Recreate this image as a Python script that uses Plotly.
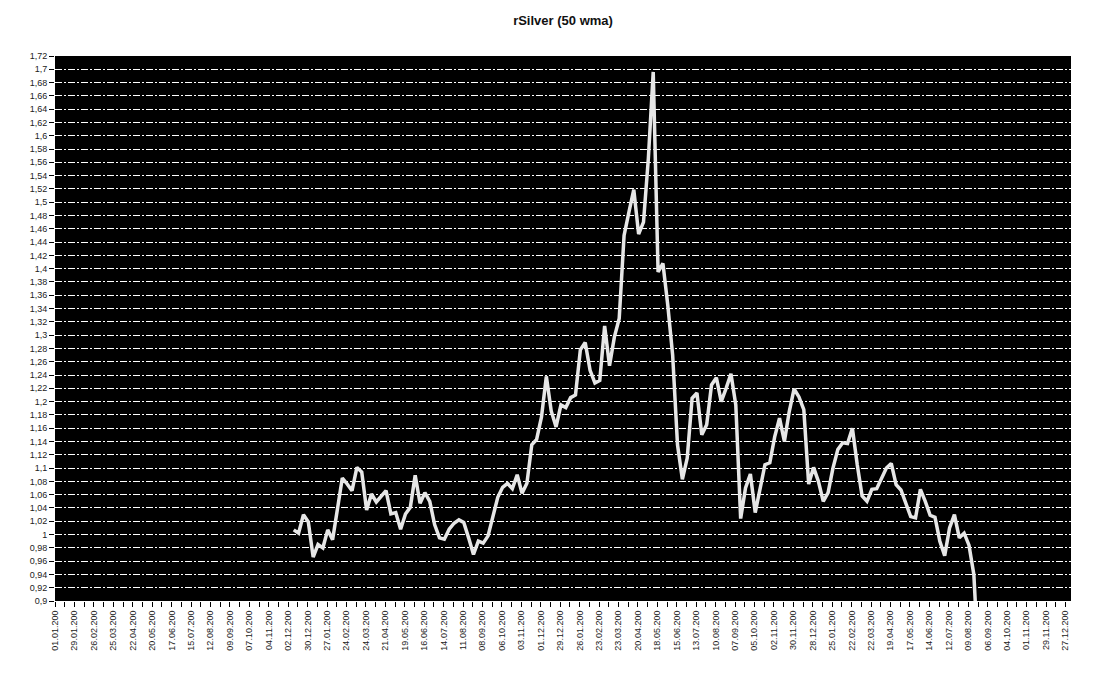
import pandas as pd
import plotly.graph_objects as go

# Weekly series (Fridays), starting 10.12.2004
start_date = "2004-12-10"
values = [
    1.007, 1.002, 1.030, 1.019, 0.966, 0.985, 0.980, 1.007, 0.992, 1.035,
    1.085, 1.076, 1.066, 1.101, 1.094, 1.037, 1.061, 1.049, 1.057, 1.066,
    1.031, 1.033, 1.008, 1.031, 1.041, 1.089, 1.047, 1.063, 1.050, 1.015,
    0.995, 0.993, 1.008, 1.017, 1.022, 1.018, 0.995, 0.970, 0.990, 0.987,
    0.998, 1.028, 1.056, 1.071, 1.077, 1.069, 1.090, 1.062, 1.077, 1.135,
    1.143, 1.177, 1.238, 1.186, 1.162, 1.195, 1.191, 1.206, 1.210, 1.278,
    1.289, 1.247, 1.228, 1.232, 1.314, 1.254, 1.297, 1.325, 1.450, 1.485,
    1.519, 1.452, 1.470, 1.566, 1.696, 1.395, 1.408, 1.345, 1.270, 1.135,
    1.083, 1.115, 1.205, 1.213, 1.150, 1.165, 1.225, 1.236, 1.200, 1.220,
    1.242, 1.195, 1.024, 1.070, 1.091, 1.033, 1.068, 1.105, 1.108, 1.147,
    1.175, 1.140, 1.185, 1.219, 1.207, 1.188, 1.076, 1.101, 1.080, 1.050,
    1.063, 1.100, 1.128, 1.138, 1.137, 1.160, 1.105, 1.058, 1.050, 1.068,
    1.069, 1.085, 1.100, 1.107, 1.075, 1.067, 1.048, 1.027, 1.025, 1.068,
    1.050, 1.029, 1.026, 0.990, 0.968, 1.010, 1.030, 0.995, 1.002, 0.984,
    0.940, 0.800,
]
dates = pd.date_range(start_date, periods=len(values), freq="7D")

# X tick labels (every 4 weeks from 01.01.2004), shown truncated as in the original
x_tick_labels = [
    "01.01.200", "29.01.200", "26.02.200", "25.03.200", "22.04.200", "20.05.200",
    "17.06.200", "15.07.200", "12.08.200", "09.09.200", "07.10.200", "04.11.200",
    "02.12.200", "30.12.200",
    "27.01.200", "24.02.200", "24.03.200", "21.04.200", "19.05.200", "16.06.200",
    "14.07.200", "11.08.200", "08.09.200", "06.10.200", "03.11.200", "01.12.200",
    "29.12.200",
    "26.01.200", "23.02.200", "23.03.200", "20.04.200", "18.05.200", "15.06.200",
    "13.07.200", "10.08.200", "07.09.200", "05.10.200", "02.11.200", "30.11.200",
    "28.12.200",
    "25.01.200", "22.02.200", "22.03.200", "19.04.200", "17.05.200", "14.06.200",
    "12.07.200", "09.08.200", "06.09.200", "04.10.200", "01.11.200", "29.11.200",
    "27.12.200",
]
x_tick_dates = pd.date_range("2004-01-01", periods=len(x_tick_labels), freq="28D")

title_text = "rSilver (50 wma)"
y_min, y_max, y_step = 0.9, 1.72, 0.02

fig = go.Figure()
fig.add_trace(go.Scatter(
    x=dates, y=values, mode="lines",
    line=dict(color="#e6e6e6", width=3.5),
    showlegend=False, hoverinfo="x+y",
))

tick_font = dict(family="Liberation Sans, Arial, sans-serif", size=9, color="#222222")

W, H = 1111, 666
fig.update_layout(
    width=W, height=H, autosize=False,
    margin=dict(l=47, r=48, t=48, b=73),
    paper_bgcolor="white", plot_bgcolor="black",
    separators=",.",
    title=dict(text="<b>" + title_text + "</b>", x=0.5, xref="paper",
               y=1 - 12 / H, yanchor="middle",
               font=dict(family="Liberation Sans, Arial, sans-serif", size=13, color="#111111")),
    xaxis=dict(
        type="date",
        range=["2004-01-01", "2008-01-04"],
        tickmode="array", tickvals=x_tick_dates, ticktext=x_tick_labels,
        tickangle=-90, tickfont=tick_font,
        ticks="outside", ticklen=5, tickcolor="black", tickwidth=1,
        minor=dict(ticks="outside", ticklen=5, tickcolor="black", tickwidth=1,
                   dtick=14 * 86400000, tick0="2004-01-01", showgrid=False),
        showgrid=False, zeroline=False, showline=False,
    ),
    yaxis=dict(
        range=[y_min, y_max], tick0=y_min, dtick=y_step,
        tickfont=tick_font,
        ticks="outside", ticklen=5, tickcolor="black", tickwidth=1,
        showgrid=True, gridcolor="white", gridwidth=1, griddash="7px,2px,2px,2px",
        zeroline=False, showline=False,
    ),
)

fig.write_html("out.html")
